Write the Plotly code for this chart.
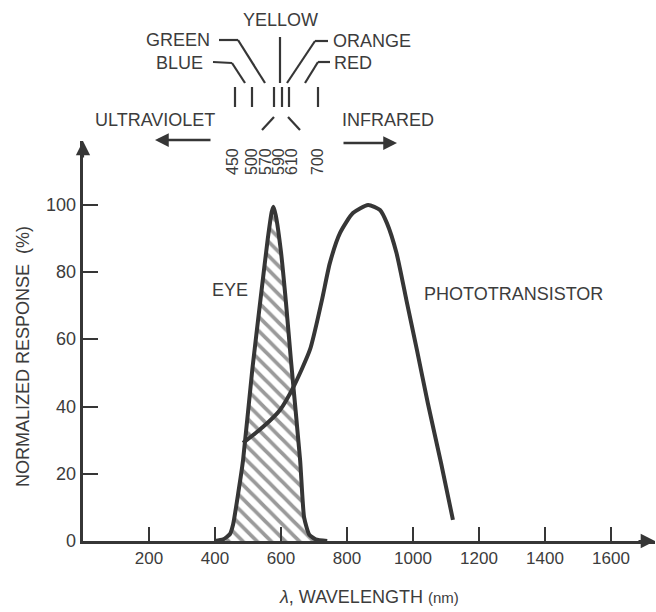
import plotly.graph_objects as go

# ---- data -------------------------------------------------------------
eye_nm = [400, 425, 445, 455, 470, 485, 513, 538, 560, 572, 577, 584, 600, 615, 630, 658, 670, 685, 705, 740]
eye_resp = [0, 0.5, 2, 5, 14, 24, 51, 72, 90, 98, 99.5, 97, 86, 71, 54, 24, 7, 2, 0.5, 0]

photo_nm = [485, 545, 597, 636, 688, 724, 748, 779, 818, 864, 900, 921, 950, 980, 1012, 1045, 1085, 1121]
photo_resp = [29.2, 33.9, 39.0, 45.5, 57, 71.7, 82.7, 91.7, 97.6, 100, 98.5, 94.6, 85.7, 71.7, 56.8, 41, 23.2, 6.3]

x_ticks = [200, 400, 600, 800, 1000, 1200, 1400, 1600]
y_ticks = [0, 20, 40, 60, 80, 100]

band_nm_labels = ["450", "500", "570", "590", "610", "700"]
colour_names = ["BLUE", "GREEN", "YELLOW", "ORANGE", "RED"]

# ---- geometry of the canvas -------------------------------------------
W, H = 656, 612
L, R, T, B = 83, 1, 141, 71
PW, PH = W - L - R, H - T - B
X_MAX = PW / 0.33      # nm spanned by the axis (to arrow tip)
Y_MAX = PH / 3.36      # % spanned by the axis (to arrow tip)

INK = "#363636"
TXT = "#3c3c3c"
FONT = "Liberation Sans, Arial, sans-serif"


def px(x, y):
    """pixel position on the page -> paper coordinates"""
    return (x - L) / PW, (H - B - y) / PH


fig = go.Figure()

fig.add_trace(go.Scatter(
    x=eye_nm, y=eye_resp, mode="lines",
    line=dict(color=INK, width=4, shape="spline", smoothing=0.5),
    fill="tozeroy",
    fillpattern=dict(shape="\\", fgcolor=INK, bgcolor="white", size=10, solidity=0.38),
    fillcolor="white",
    hoverinfo="skip", showlegend=False,
))

fig.add_trace(go.Scatter(
    x=photo_nm, y=photo_resp, mode="lines",
    line=dict(color=INK, width=4, shape="spline", smoothing=0.6),
    hoverinfo="skip", showlegend=False,
))

shapes = []
annotations = []


def seg(p, q, width=2.2):
    (x0, y0), (x1, y1) = px(*p), px(*q)
    shapes.append(dict(type="line", xref="paper", yref="paper",
                       x0=x0, y0=y0, x1=x1, y1=y1,
                       line=dict(color=INK, width=width)))


def label(text, x, y, xanchor="center", angle=0, size=18):
    xp, yp = px(x, y)
    annotations.append(dict(text=text, x=xp, y=yp, xref="paper", yref="paper",
                            xanchor=xanchor, yanchor="middle", showarrow=False,
                            textangle=angle, font=dict(family=FONT, size=size, color=TXT)))


def arrow(tip, tail, width=2.5, size=1.1):
    xp, yp = px(*tip)
    annotations.append(dict(text="", x=xp, y=yp, xref="paper", yref="paper",
                            ax=tail[0] - tip[0], ay=tail[1] - tip[1],
                            showarrow=True, arrowhead=2, arrowsize=size,
                            arrowwidth=width, arrowcolor=INK, standoff=0))


# colour names with their leader lines
label(colour_names[2], 280, 19.5)
label(colour_names[1], 212, 40, xanchor="right")
label(colour_names[3], 331, 40.5, xanchor="left")
label(colour_names[0], 205, 63, xanchor="right")
label(colour_names[4], 332, 63, xanchor="left")

seg((213, 62), (232, 63)); seg((232, 63), (245, 83))
seg((219, 40), (238, 40)); seg((238, 40), (265, 83))
seg((280, 37), (280, 83))
seg((328, 41), (315, 41)); seg((315, 41), (287, 83))
seg((330, 62), (318, 62)); seg((318, 62), (305, 83))

# short band markers
for bx in [235, 252, 274, 282, 289, 318]:
    seg((bx, 87), (bx, 107))
seg((262, 130), (274, 117))
seg((288, 117), (300, 130))

# band wavelengths, written vertically
for lab, bx in zip(band_nm_labels, [232, 251, 265, 278, 291, 317]):
    label(lab, bx, 162, angle=-90, size=16)

# spectrum direction
label("ULTRAVIOLET", 93, 119.5, xanchor="left")
label("INFRARED", 340, 119.5, xanchor="left")
arrow((155, 140), (212, 140))
arrow((397, 143), (342, 143))

# curve names
label("EYE", 230, 289.5)
label("PHOTOTRANSISTOR", 422, 294, xanchor="left")

# axis titles
label("NORMALIZED RESPONSE  (%)", 23, 357, angle=-90)
label("<i>λ</i>, WAVELENGTH <span style='font-size:15px'>(nm)</span>", 369, 597)

# y tick labels sit close to the axis line
for v in y_ticks:
    annotations.append(dict(text=str(v), x=0, y=v, xref="paper", yref="y",
                            xanchor="right", yanchor="middle", xshift=-5,
                            showarrow=False, font=dict(family=FONT, size=18, color=TXT)))

# arrow heads on the axes
arrow((L, T), (L, T + 18), width=2.2, size=1.3)
arrow((W - R, H - B), (W - R - 18, H - B), width=2.2, size=1.3)

fig.update_layout(
    width=W, height=H,
    margin=dict(l=L, r=R, t=T, b=B, pad=0),
    paper_bgcolor="white", plot_bgcolor="white",
    font=dict(family=FONT, size=18, color=TXT),
    shapes=shapes, annotations=annotations,
    xaxis=dict(range=[0, X_MAX], tickvals=x_ticks, ticktext=[str(v) for v in x_ticks],
               ticks="inside", ticklen=14, tickwidth=2, tickcolor=INK,
               showline=True, linewidth=2.5, linecolor=INK,
               showgrid=False, zeroline=False,
               tickfont=dict(family=FONT, size=17, color=TXT)),
    yaxis=dict(range=[0, Y_MAX], tickvals=y_ticks, showticklabels=False,
               ticks="inside", ticklen=15, tickwidth=2, tickcolor=INK,
               showline=True, linewidth=2.5, linecolor=INK,
               showgrid=False, zeroline=False),
)

fig.write_html("out.html")
